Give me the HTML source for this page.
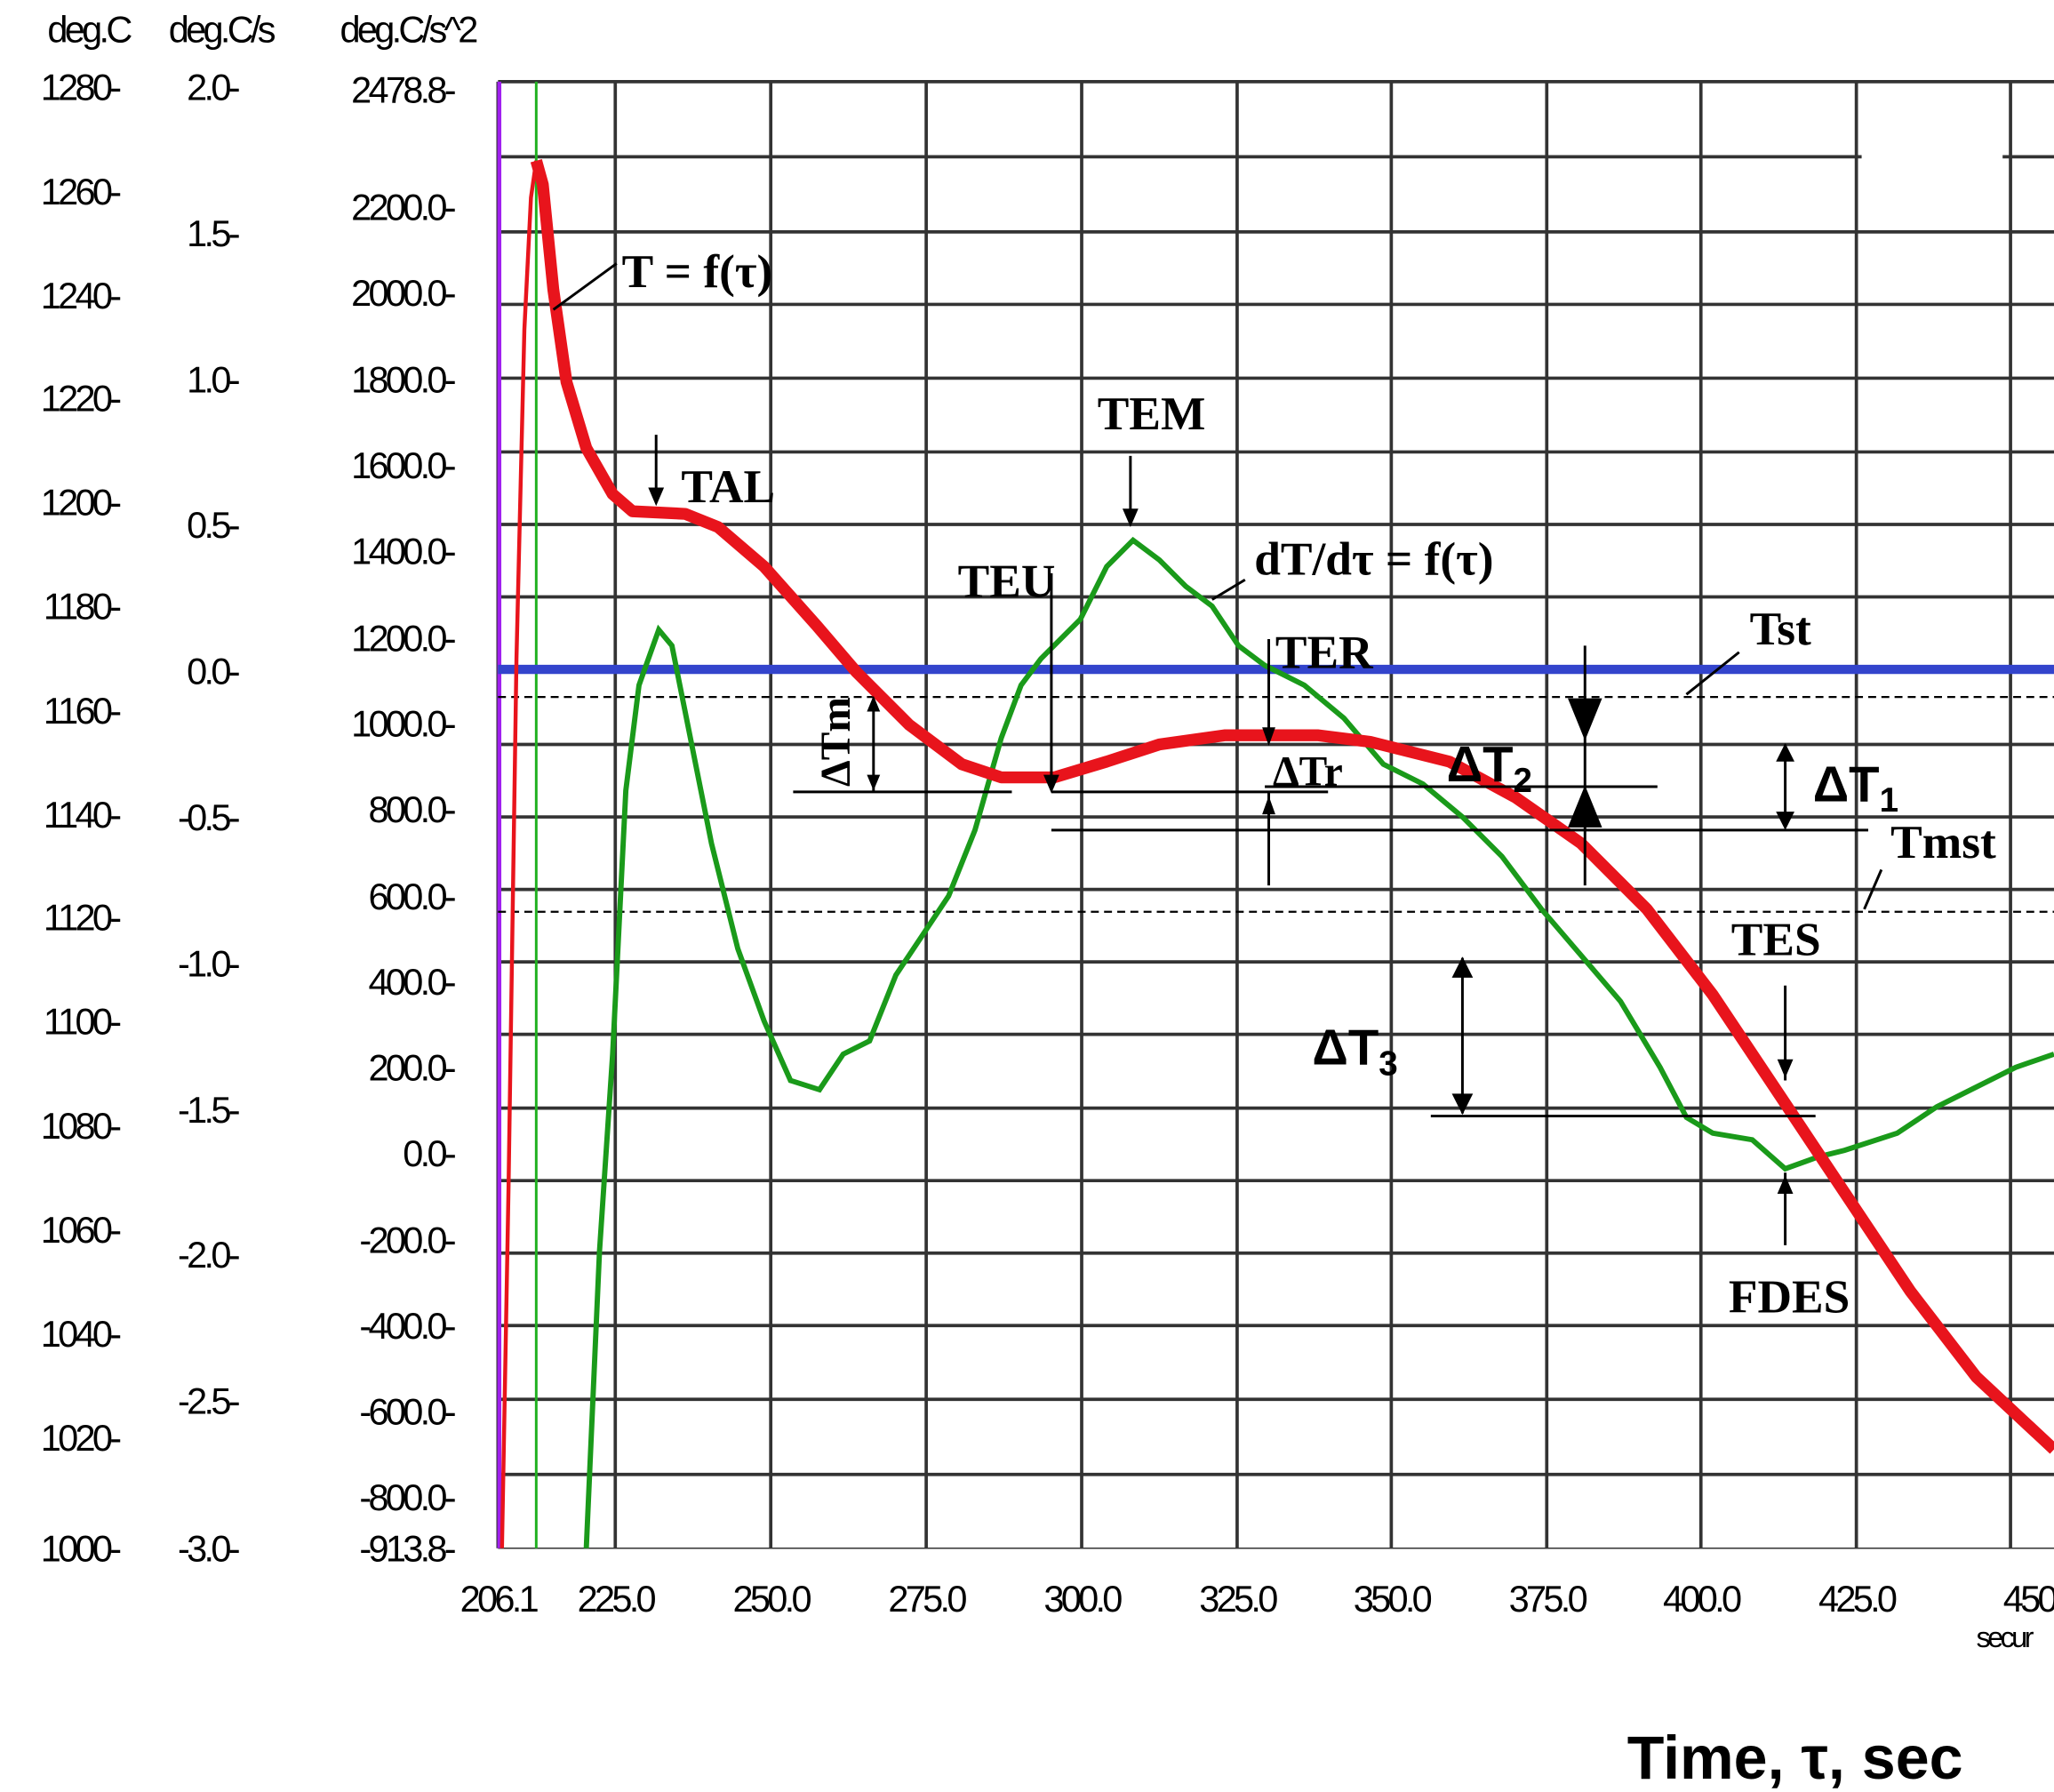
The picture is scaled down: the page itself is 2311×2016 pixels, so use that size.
<!DOCTYPE html>
<html><head><meta charset="utf-8"><style>html,body{margin:0;padding:0;background:#fff}svg{display:block}</style></head><body>
<svg width="2311" height="2016" viewBox="0 0 1559 1360" xmlns="http://www.w3.org/2000/svg">
<rect width="1559" height="1360" fill="#fff"/>
<g font-family="Liberation Sans, sans-serif" font-size="28" fill="#000" style="letter-spacing:-2.5px">
<text x="36" y="32">deg.C</text><text x="128" y="32">deg.C/s</text><text x="258" y="32">deg.C/s^2</text>
<g text-anchor="end">
<text x="90" y="76">1280-</text><text x="90" y="155">1260-</text><text x="90" y="234">1240-</text><text x="90" y="312">1220-</text><text x="90" y="391">1200-</text><text x="90" y="470">1180-</text><text x="90" y="549">1160-</text><text x="90" y="628">1140-</text><text x="90" y="706">1120-</text><text x="90" y="785">1100-</text><text x="90" y="864">1080-</text><text x="90" y="943">1060-</text><text x="90" y="1022">1040-</text><text x="90" y="1101">1020-</text><text x="90" y="1185">1000-</text>
<text x="180" y="76">2.0-</text><text x="180" y="187">1.5-</text><text x="180" y="298">1.0-</text><text x="180" y="408">0.5-</text><text x="180" y="519">0.0-</text><text x="180" y="630">-0.5-</text><text x="180" y="741">-1.0-</text><text x="180" y="852">-1.5-</text><text x="180" y="962">-2.0-</text><text x="180" y="1073">-2.5-</text><text x="180" y="1185">-3.0-</text>
<text x="344" y="78">2478.8-</text><text x="344" y="167">2200.0-</text><text x="344" y="232">2000.0-</text><text x="344" y="298">1800.0-</text><text x="344" y="363">1600.0-</text><text x="344" y="428">1400.0-</text><text x="344" y="494">1200.0-</text><text x="344" y="559">1000.0-</text><text x="344" y="624">800.0-</text><text x="344" y="690">600.0-</text><text x="344" y="755">400.0-</text><text x="344" y="820">200.0-</text><text x="344" y="885">0.0-</text><text x="344" y="951">-200.0-</text><text x="344" y="1016">-400.0-</text><text x="344" y="1081">-600.0-</text><text x="344" y="1146">-800.0-</text><text x="344" y="1185">-913.8-</text>
</g>
<g text-anchor="middle">
<text x="378" y="1223">206.1</text><text x="467" y="1223">225.0</text><text x="585" y="1223">250.0</text><text x="703" y="1223">275.0</text><text x="821" y="1223">300.0</text><text x="939" y="1223">325.0</text><text x="1056" y="1223">350.0</text><text x="1174" y="1223">375.0</text><text x="1291" y="1223">400.0</text><text x="1409" y="1223">425.0</text><text x="1540" y="1223">450</text>
</g>
<text x="1500" y="1250" font-size="22">secur</text>
</g>
<g stroke="#333" stroke-width="2.5">
<path d="M378 62V1175M467 62V1175M585 62V1175M703 62V1175M821 62V1175M939 62V1175M1056 62V1175M1174 62V1175M1291 62V1175M1409 62V1175M1526 62V1175"/>
<path d="M378 62H1559M378 119H1413M1520 119H1559M378 176H1559M378 231H1559M378 287H1559M378 343H1559M378 398H1559M378 453H1559M378 565H1559M378 620H1559M378 675H1559M378 730H1559M378 785H1559M378 841H1559M378 896H1559M378 951H1559M378 1006H1559M378 1062H1559M378 1119H1559"/>
</g>
<path d="M378 1175H1559" stroke="#333" stroke-width="1"/>
<line x1="379" y1="62" x2="379" y2="1175" stroke="#a020f0" stroke-width="3"/>
<line x1="407" y1="62" x2="407" y2="1175" stroke="#20b020" stroke-width="2"/>
<path d="M378 529H1559M378 692H1559" stroke="#000" stroke-width="1.5" stroke-dasharray="6,4"/>
<line x1="378" y1="508" x2="1559" y2="508" stroke="#3344cc" stroke-width="7"/>
<polyline fill="none" stroke="#1a9a1a" stroke-width="4" points="445,1175 455,950 465,800 475,600 485,520 500,478 510,490 520,540 540,640 560,720 580,775 600,820 622,827 640,800 660,790 680,740 700,710 720,680 740,630 760,560 775,520 790,500 820,470 840,430 860,410 880,425 900,445 920,460 940,490 960,505 990,520 1020,545 1050,580 1080,595 1110,620 1140,650 1170,690 1200,725 1230,760 1260,810 1280,848 1300,860 1330,865 1355,887 1380,878 1400,873 1440,860 1470,840 1500,825 1530,810 1559,800"/>
<polyline fill="none" stroke="#e8141c" stroke-width="3" points="381,1175 386,900 392,500 398,250 403,150 407,122"/>
<polyline fill="none" stroke="#e8141c" stroke-width="9" stroke-linejoin="round" points="407,122 412,140 420,220 430,290 445,340 465,375 480,388 520,390 545,400 580,430 620,475 650,510 690,550 730,580 760,590 800,590 840,578 880,565 930,558 1000,558 1040,563 1100,578 1150,605 1200,640 1250,690 1300,755 1350,830 1400,905 1450,980 1500,1045 1559,1100"/>
<g font-family="Liberation Serif, serif" font-weight="bold" font-size="36" fill="#000">
<text x="472" y="218">T = f(τ)</text><text x="517" y="381">TAL</text><text x="833" y="326">TEM</text><text x="727" y="453">TEU</text><text x="952" y="436">dT/dτ = f(τ)</text><text x="968" y="507">TER</text><text x="1328" y="489">Tst</text><text x="1435" y="651">Tmst</text><text x="1314" y="725">TES</text><text x="1312" y="996">FDES</text><text x="966" y="596" font-size="32">ΔTr</text>
<text x="645" y="597" transform="rotate(-90 645 597)" font-size="32">ΔTm</text>
</g>
<g font-family="Liberation Sans, sans-serif" font-weight="bold" fill="#000">
<text x="1098" y="593" font-size="38">ΔT<tspan font-size="26" dy="8">2</tspan></text>
<text x="1376" y="608" font-size="38">ΔT<tspan font-size="26" dy="8">1</tspan></text>
<text x="996" y="808" font-size="38">ΔT<tspan font-size="26" dy="8">3</tspan></text>
<text x="1235" y="1350" font-size="46">Time, τ, sec</text>
</g>
<g stroke="#000" stroke-width="2" fill="none">
<path d="M420 235L468 200M498 330V375M858 346V392M798 435V598M920 455L945 440M963 485V560M1280 527L1320 495M1415 690L1428 660"/>
<path d="M602 601H768M798 601H1008M960 597H1258M798 630H1418M1086 847H1378M663 530V600M963 600V672M1203 490V672M1355 565V628M1110 727V845M1355 748V820M1355 890V945"/>
</g>
<g fill="#000">
<path d="M492 370L498 384L504 370Z M852 386L858 400L864 386Z M792 588L798 602L804 588Z M958 552L963 566L968 552Z M658 540L663 528L668 540Z M658 588L663 600L668 588Z M958 618L963 604L968 618Z M1190 530L1203 562L1216 530Z M1190 628L1203 596L1216 628Z M1348 578L1355 564L1362 578Z M1348 616L1355 630L1362 616Z M1102 742L1110 726L1118 742Z M1102 830L1110 846L1118 830Z M1349 804L1355 818L1361 804Z M1349 906L1355 892L1361 906Z"/>
</g>
</svg>
</body></html>
